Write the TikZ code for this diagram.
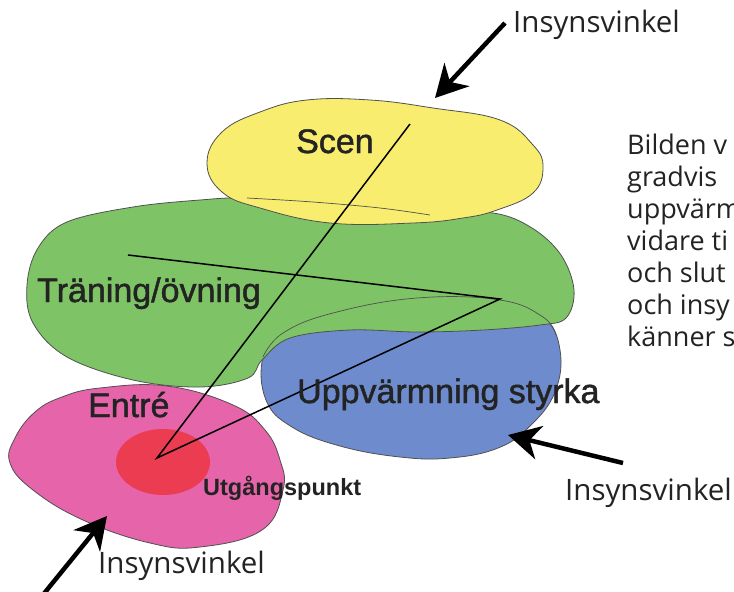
\documentclass[tikz,border=0pt]{standalone}
\usepackage{fontspec}
\setmainfont{Open Sans}
\newfontfamily\arialf[FakeBold=1.4]{Liberation Sans}
\newfontfamily\arialb{Liberation Sans Bold}
\usetikzlibrary{arrows.meta}
\definecolor{cyellow}{RGB}{248,237,110}
\definecolor{cgreen}{RGB}{126,196,102}
\definecolor{cblue}{RGB}{110,140,205}
\definecolor{cpink}{RGB}{230,100,170}
\definecolor{cred}{RGB}{236,60,82}
\definecolor{cedge}{RGB}{80,80,80}
\definecolor{ctext}{RGB}{35,35,35}
\tikzset{
  blob/.style={draw=cedge, line width=0.8pt},
  thinedge/.style={draw=cedge, line width=0.7pt},
  zonelabel/.style={inner sep=0pt, anchor=base west, text=ctext, font=\arialf\fontsize{34}{40}\selectfont},
  viewlabel/.style={inner sep=0pt, anchor=base west, text=ctext, font=\fontsize{29.5}{34}\selectfont},
  bodytext/.style={inner sep=0pt, anchor=base west, text=ctext, font=\fontsize{27}{32}\selectfont},
  viewarrow/.style={line width=4.5pt, -{Stealth[length=32pt,width=34pt,inset=10pt]}},
  route/.style={line width=1.5pt, black}
}
\begin{document}
\begin{tikzpicture}[x=1pt,y=-1pt]
\useasboundingbox (0,0) rectangle (734,592);
\clip (0,0) rectangle (734,592);
\fill[white] (0,0) rectangle (734,592);

% blue (under green)
\path[blob, fill=cblue] plot[smooth cycle, tension=0.7] coordinates {
  (263,357) (283,333) (333,313) (417,298) (500,300) (543,317) (560,350)
  (555,392) (530,426) (498,448) (450,458) (400,457) (340,446) (292,427) (266,400)};

% green
\path[blob, fill=cgreen] plot[smooth cycle, tension=0.6] coordinates {
  (27,285) (38,248) (67,222) (133,207) (200,200) (247,198) (330,203) (430,213)
  (493,213) (532,228) (561,255) (574,290) (566,318) (540,325) (483,330) (417,332)
  (350,330) (290,338) (262,360) (248,378) (200,387) (133,380) (67,357) (33,323)};

% yellow
\path[blob, fill=cyellow] plot[smooth cycle, tension=0.7] coordinates {
  (207,163) (222,132) (260,112) (307,100) (370,100) (433,108) (500,120)
  (533,145) (543,167) (533,193) (497,210) (463,218) (413,223) (330,223)
  (260,208) (222,192)};

% outlines visible through overlaps
\draw[thinedge] plot[smooth, tension=0.6] coordinates {(247,198) (313,202) (380,208) (430,215)};
\draw[thinedge] plot[smooth, tension=0.7] coordinates {(263,357) (283,333) (333,313) (417,298) (500,300) (543,317) (556,335)};

% pink
\path[blob, fill=cpink] plot[smooth cycle, tension=0.7] coordinates {
  (10,463) (15,438) (35,412) (62,397) (100,388) (167,386) (233,405) (265,430)
  (280,460) (283,490) (262,530) (200,547) (150,543) (83,520) (33,490)};

% red starting point
\fill[cred] (163,462) ellipse [x radius=47, y radius=33];

% route
\coordinate (r1) at (128,255);
\coordinate (r2) at (500,299);
\coordinate (r3) at (157,458);
\coordinate (r4) at (410,124);
\draw[route] (r1) -- (r2) -- (r3) -- (r4);

% zone labels
\node[zonelabel] (scen) at (296,153) {Scen};
\node[zonelabel] (tran) at (37,302) {Träning/övning};
\node[zonelabel] (entre) at (88,417) {Entré};
\node[zonelabel] (uppv) at (297,403) {Uppvärmning styrka};
\node[inner sep=0pt, anchor=base west, text=ctext, font=\arialb\fontsize{23.5}{27}\selectfont] (utg) at (203,495) {Utgångspunkt};

% view angle labels
\node[viewlabel] (v1) at (513,32) {Insynsvinkel};
\node[viewlabel] (v2) at (565,500) {Insynsvinkel};
\node[viewlabel] (v3) at (98,573) {Insynsvinkel};

% arrows
\coordinate (a1t) at (505,23);
\coordinate (a1h) at (435,98);
\coordinate (a2t) at (623,463);
\coordinate (a2h) at (508,435);
\coordinate (a3t) at (42,596);
\coordinate (a3h) at (107,516);
\draw[viewarrow] (a1t) -- (a1h);
\draw[viewarrow] (a2t) -- (a2h);
\draw[viewarrow] (a3t) -- (a3h);

% side text (cut off at the right edge, as in the reference)
\node[bodytext] (t1) at (627,154) {Bilden v};
\node[bodytext] (t2) at (627,186) {gradvis};
\node[bodytext] (t3) at (627,218) {uppvärm};
\node[bodytext] (t4) at (627,250) {vidare ti};
\node[bodytext] (t5) at (627,282) {och slut};
\node[bodytext] (t6) at (627,314) {och insy};
\node[bodytext] (t7) at (627,346) {känner s};
\end{tikzpicture}
\end{document}
